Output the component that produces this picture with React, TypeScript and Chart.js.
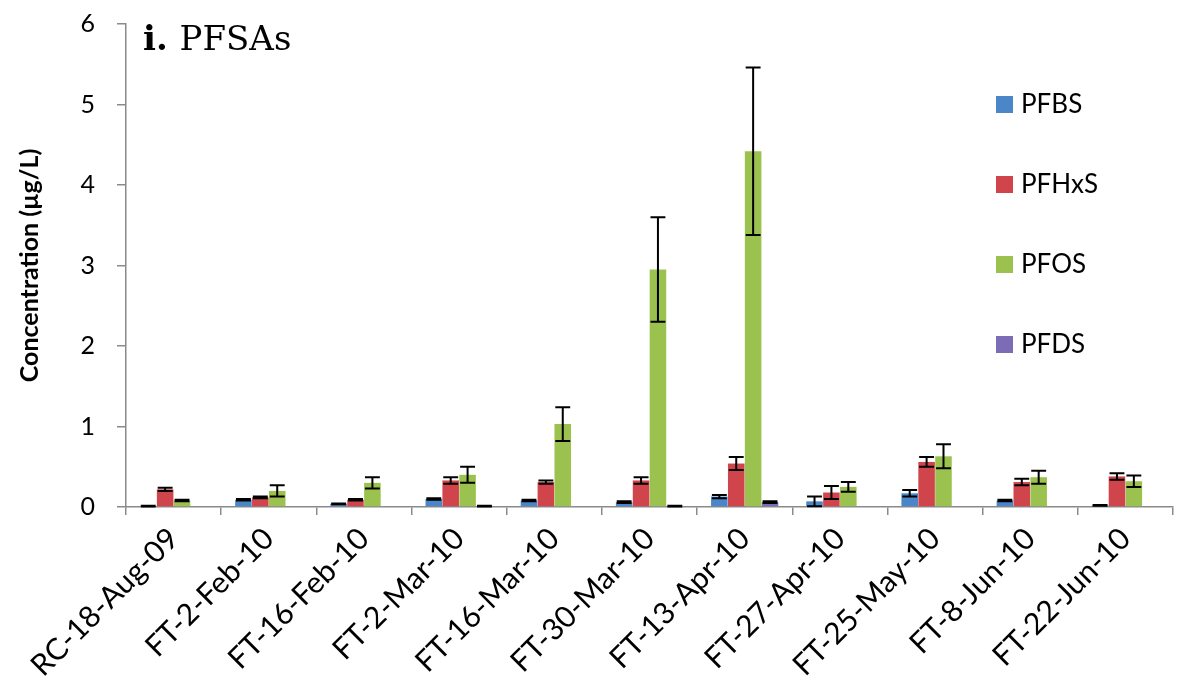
import React, { useEffect, useRef } from "react";
import { Chart, registerables } from "chart.js";

Chart.register(...registerables);

const categories = [
  "RC-18-Aug-09",
  "FT-2-Feb-10",
  "FT-16-Feb-10",
  "FT-2-Mar-10",
  "FT-16-Mar-10",
  "FT-30-Mar-10",
  "FT-13-Apr-10",
  "FT-27-Apr-10",
  "FT-25-May-10",
  "FT-8-Jun-10",
  "FT-22-Jun-10",
];

const seriesNames = ["PFBS", "PFHxS", "PFOS", "PFDS"];

const pfbs = [0.01, 0.09, 0.04, 0.1, 0.08, 0.06, 0.13, 0.07, 0.17, 0.08, 0.02];
const pfbsErr = [0.005, 0.01, 0.005, 0.01, 0.01, 0.01, 0.02, 0.06, 0.04, 0.01, 0.005];

const pfhxs = [0.22, 0.12, 0.09, 0.33, 0.31, 0.33, 0.54, 0.18, 0.56, 0.31, 0.38];
const pfhxsErr = [0.02, 0.01, 0.01, 0.04, 0.02, 0.04, 0.08, 0.08, 0.06, 0.04, 0.04];

const pfos = [0.08, 0.2, 0.3, 0.4, 1.03, 2.95, 4.42, 0.25, 0.63, 0.37, 0.32];
const pfosErr = [0.01, 0.07, 0.07, 0.1, 0.21, 0.65, 1.04, 0.06, 0.15, 0.08, 0.07];

const pfds = [0.0, 0.0, 0.0, 0.01, 0.0, 0.01, 0.06, 0.0, 0.0, 0.0, 0.0];
const pfdsErr = [0, 0, 0, 0.005, 0, 0.005, 0.01, 0, 0, 0, 0];

const yTicks = [0, 1, 2, 3, 4, 5, 6];

const colors = ["#4A86C8", "#D0454C", "#9BC24F", "#7B6CB5"];

const titleBold = "i.";
const titleText = "PFSAs";
const yTitle = "Concentration (µg/L)";

const SANS = "Lato, 'Open Sans', sans-serif";

const errorBarPlugin = {
  id: "errorBars",
  afterDatasetsDraw(chart: any) {
    const ctx = chart.ctx;
    const yScale = chart.scales.y;
    ctx.save();
    ctx.strokeStyle = "#000000";
    ctx.lineWidth = 2;
    chart.data.datasets.forEach((ds: any, di: number) => {
      const meta = chart.getDatasetMeta(di);
      if (meta.hidden) return;
      meta.data.forEach((bar: any, i: number) => {
        const v = ds.data[i];
        const e = ds.errors ? ds.errors[i] : 0;
        if (!e) return;
        const x = bar.x;
        const yt = yScale.getPixelForValue(v + e);
        const yb = yScale.getPixelForValue(Math.max(0, v - e));
        const cap = bar.width * 0.45;
        ctx.beginPath();
        ctx.moveTo(x, yt);
        ctx.lineTo(x, yb);
        ctx.moveTo(x - cap, yt);
        ctx.lineTo(x + cap, yt);
        ctx.moveTo(x - cap, yb);
        ctx.lineTo(x + cap, yb);
        ctx.stroke();
      });
    });
    ctx.restore();
  },
};

const decorPlugin = {
  id: "decor",
  afterDraw(chart: any) {
    const ctx = chart.ctx;
    const area = chart.chartArea;
    ctx.save();
    // title
    ctx.fillStyle = "#000000";
    ctx.textBaseline = "alphabetic";
    ctx.textAlign = "left";
    const tx = area.left + 17;
    const ty = area.top + 26;
    ctx.font = "bold 34px 'DejaVu Serif', serif";
    ctx.fillText(titleBold, tx, ty);
    const w = ctx.measureText(titleBold + " ").width;
    ctx.font = "34px 'DejaVu Serif', serif";
    ctx.fillText(titleText, tx + w, ty);

    // legend
    const lx = area.right - 177;
    ctx.font = `26px ${SANS}`;
    ctx.textBaseline = "middle";
    seriesNames.forEach((name, i) => {
      const cy = area.top + 80 + i * 80;
      ctx.fillStyle = colors[i];
      ctx.fillRect(lx, cy - 8, 17, 17);
      ctx.fillStyle = "#000000";
      ctx.fillText(name, lx + 25, cy + 1);
    });
    ctx.restore();
  },
};

export default function App() {
  const canvasRef = useRef<HTMLCanvasElement | null>(null);

  useEffect(() => {
    if (!canvasRef.current) return;
    const allVals = [pfbs, pfhxs, pfos, pfds];
    const allErrs = [pfbsErr, pfhxsErr, pfosErr, pfdsErr];
    const chart = new Chart(canvasRef.current, {
      type: "bar",
      data: {
        labels: categories,
        datasets: seriesNames.map((name, i) => ({
          label: name,
          data: allVals[i],
          errors: allErrs[i],
          backgroundColor: colors[i],
          borderWidth: 0,
          categoryPercentage: 0.71,
          barPercentage: 0.98,
        })) as any,
      },
      options: {
        animation: false,
        responsive: true,
        maintainAspectRatio: false,
        layout: { padding: { top: 24, right: 5, left: 0, bottom: 0 } },
        plugins: {
          legend: { display: false },
          title: { display: false },
          tooltip: { enabled: false },
        },
        scales: {
          x: {
            grid: {
              display: true,
              drawOnChartArea: false,
              drawTicks: true,
              tickLength: 8,
              color: "#8A8A8A",
              lineWidth: 1.5,
              offset: true,
            },
            border: { display: true, color: "#8A8A8A", width: 1.5 },
            ticks: {
              minRotation: 45,
              maxRotation: 45,
              autoSkip: false,
              padding: 6,
              color: "#000000",
              font: { family: SANS, size: 30 },
            },
            afterFit(scale: any) {
              scale.height = 184;
            },
          },
          y: {
            min: 0,
            max: 6,
            afterBuildTicks(scale: any) {
              scale.ticks = yTicks.map((v) => ({ value: v }));
            },
            grid: {
              display: true,
              drawOnChartArea: false,
              drawTicks: true,
              tickLength: 9,
              color: "#8A8A8A",
              lineWidth: 1.5,
            },
            border: { display: true, color: "#8A8A8A", width: 1.5 },
            ticks: {
              padding: 22,
              color: "#000000",
              font: { family: SANS, size: 25 },
              callback: (v: any) => String(v),
            },
            title: {
              display: true,
              text: yTitle,
              color: "#000000",
              font: { family: SANS, size: 25, weight: "bold" },
              padding: { top: 15, bottom: 0 },
            },
            afterFit(scale: any) {
              scale.width = 126;
              scale.paddingTop = 12;
              scale.paddingBottom = 12;
            },
          },
        },
      },
      plugins: [errorBarPlugin, decorPlugin],
    } as any);
    return () => chart.destroy();
  }, []);

  return (
    <div
      style={{
        position: "absolute",
        left: 0,
        top: 0,
        width: 1178,
        height: 691,
        background: "#ffffff",
      }}
    >
      <canvas ref={canvasRef} />
    </div>
  );
}
